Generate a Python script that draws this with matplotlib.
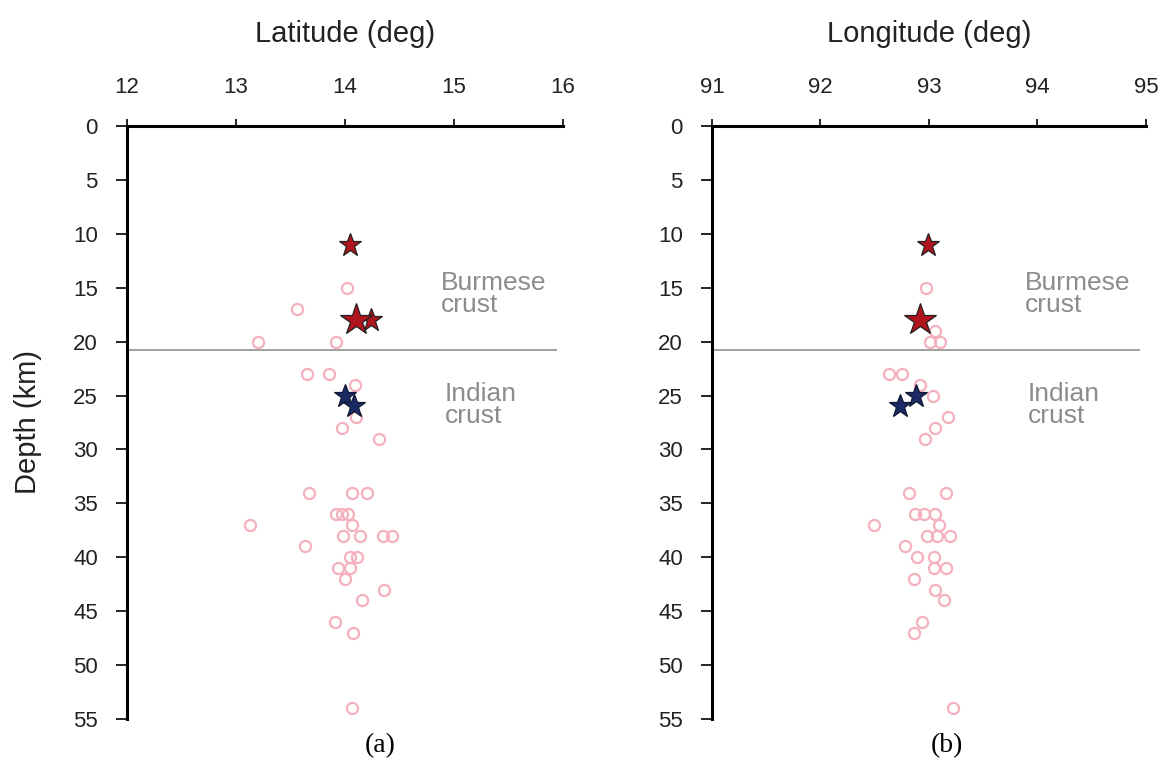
import matplotlib
matplotlib.use("Agg")
from matplotlib import pyplot as plt

# aftershock depths (km) and positions
circ_depth = [15, 17, 20, 20, 23, 23, 24, 27, 28, 29, 34, 34, 34, 36, 36, 36,
              37, 37, 38, 38, 38, 38, 39, 40, 40, 41, 41, 42, 43, 44, 46, 47, 54]
circ_lat = [14.02, 13.56, 13.20, 13.92, 13.65, 13.85, 14.09, 14.10, 13.97, 14.31,
            13.67, 14.06, 14.20, 13.92, 13.97, 14.03, 13.13, 14.06, 13.98, 14.14,
            14.35, 14.43, 13.63, 14.05, 14.11, 13.94, 14.05, 14.00, 14.36, 14.16,
            13.91, 14.07, 14.06]

circ_depth_b = [15, 19, 20, 20, 23, 23, 24, 25, 27, 28, 29, 34, 34, 36, 36, 36,
                37, 37, 38, 38, 38, 39, 40, 40, 41, 41, 42, 43, 44, 46, 47, 54]
circ_lon = [92.97, 93.06, 93.01, 93.10, 92.63, 92.75, 92.92, 93.04, 93.18, 93.06,
            92.96, 92.82, 93.16, 92.87, 92.95, 93.06, 92.49, 93.09, 92.98, 93.07,
            93.19, 92.78, 92.89, 93.05, 93.05, 93.16, 92.86, 93.06, 93.14, 92.94,
            92.86, 93.22]

# main shocks: red = Burmese crust, blue = Indian crust
red_depth = [11, 18, 18]
red_lat = [14.05, 14.24, 14.10]
red_lon = [92.99, 92.92, 92.92]
red_size = [17, 17, 24]

blue_depth = [25, 26]
blue_lat = [14.00, 14.08]
blue_lon = [92.88, 92.73]

moho_depth = 20.8
lat_ticks = [12, 13, 14, 15, 16]
lon_ticks = [91, 92, 93, 94, 95]
depth_ticks = list(range(0, 60, 5))

plt.rcParams['font.family'] = ['Liberation Sans', 'DejaVu Sans']

fig = plt.figure(figsize=(11.62, 7.58), dpi=100)
ax_a = fig.add_axes([0.1093, 0.0515, 0.3752, 0.7823])
ax_b = fig.add_axes([0.6127, 0.0515, 0.3735, 0.7823])

panels = [
    (ax_a, circ_lat, circ_depth, red_lat, blue_lat, lat_ticks, "Latitude (deg)", "(a)", 0.58),
    (ax_b, circ_lon, circ_depth_b, red_lon, blue_lon, lon_ticks, "Longitude (deg)", "(b)", 0.541),
]

for ax, cx, cy, rx, bx, xt, xlab, tag, tag_x in panels:
    ax.axhline(moho_depth, xmin=0, xmax=0.985, color="#a0a0a0", lw=1.4, zorder=1)
    ax.plot(cx, cy, "o", ms=8, mfc="none", mec="#f4b0bd", mew=1.6, zorder=2)
    for x, y, s in zip(rx, red_depth, red_size):
        ax.plot(x, y, "*", ms=s, mfc="#b0141c", mec="#222222", mew=0.9, zorder=3)
    ax.plot(bx, blue_depth, "*", ms=17, mfc="#1c2a66", mec="#111833", mew=0.9, zorder=3)

    ax.set_xlim(xt[0], xt[-1])
    ax.set_ylim(55, 0)
    ax.set_xticks(xt)
    ax.set_yticks(depth_ticks)
    ax.xaxis.tick_top()
    ax.xaxis.set_label_position("top")
    ax.set_xlabel(xlab, fontsize=21, labelpad=25, color="#222222")
    ax.tick_params(axis="x", direction="out", length=5, width=1.2, pad=15,
                   labelsize=16, labelcolor="#222222")
    ax.tick_params(axis="y", direction="out", length=8, width=1.2, pad=13,
                   labelsize=16, labelcolor="#222222")
    for side in ["right", "bottom"]:
        ax.spines[side].set_visible(False)
    for side in ["left", "top"]:
        ax.spines[side].set_linewidth(2.2)

    ax.text(0.72, 15.6, "Burmese\ncrust", transform=ax.get_yaxis_transform(),
            fontsize=19, color="#8c8c8c", va="center", ha="left", linespacing=0.92)
    ax.text(0.728, 25.9, "Indian\ncrust", transform=ax.get_yaxis_transform(),
            fontsize=19, color="#8c8c8c", va="center", ha="left", linespacing=0.92)
    ax.text(tag_x, -0.045, tag, transform=ax.transAxes, ha="center", va="center",
            fontsize=20, family="Liberation Serif")

ax_a.set_ylabel("Depth (km)", fontsize=21, color="#222222")
ax_a.yaxis.set_label_coords(-0.195, 0.5)

fig.savefig("out.png", dpi=100)
